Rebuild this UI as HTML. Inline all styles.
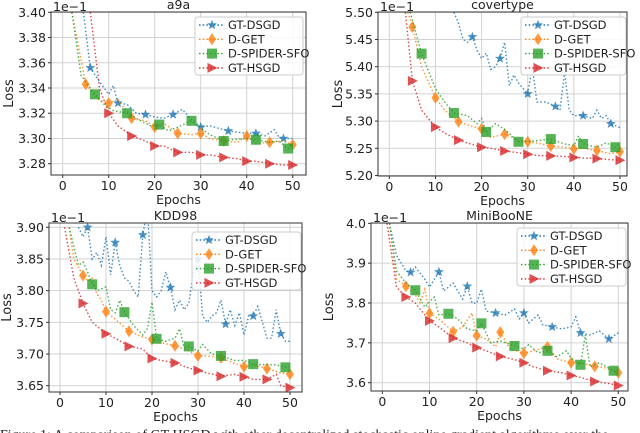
<!DOCTYPE html>
<html><head><meta charset="utf-8"><style>
body{margin:0;background:#fff;width:640px;height:433px;overflow:hidden;font-family:"Liberation Sans","DejaVu Sans",sans-serif}
svg{display:block}
</style></head><body>
<svg id="fig" width="640" height="433" xmlns="http://www.w3.org/2000/svg" font-family="DejaVu Sans, Liberation Sans, sans-serif"></svg>
<script>
// ---- data (loss values in units of 1e-1) ----
const seriesNames = ["GT-DSGD","D-GET","D-SPIDER-SFO","GT-HSGD"];
const xTicks = [0,10,20,30,40,50];

const a9aDsgdX=[4.5,6,8,10,11,12,14,16,18,20,22,24,26,28,30,32,34,36,38,40,42,44,46,47,48,50];
const a9aDsgdY=[3.40,3.356,3.345,3.335,3.342,3.328,3.327,3.32,3.319,3.317,3.316,3.319,3.323,3.315,3.309,3.31,3.308,3.306,3.305,3.304,3.304,3.302,3.307,3.301,3.300,3.300];
const a9aGetX=[2,5,8,10,12,15,18,20,22,25,28,30,32,35,38,40,42,45,48,50];
const a9aGetY=[3.40,3.343,3.33,3.328,3.331,3.316,3.314,3.309,3.312,3.304,3.303,3.304,3.300,3.298,3.297,3.302,3.296,3.297,3.298,3.295];
const a9aSpiX=[2,4,7,9,11,14,17,19,21,23,25,28,30,32,35,37,40,42,45,47,49,50];
const a9aSpiY=[3.40,3.35,3.335,3.327,3.322,3.32,3.314,3.31,3.311,3.306,3.309,3.314,3.308,3.303,3.298,3.299,3.300,3.299,3.297,3.298,3.292,3.297];
const a9aHsX=[6,8,10,12,15,18,20,22,25,28,30,32,35,38,40,42,45,48,50];
const a9aHsY=[3.40,3.34,3.32,3.31,3.302,3.298,3.294,3.294,3.289,3.289,3.287,3.287,3.285,3.284,3.282,3.282,3.28,3.279,3.279];
const a9aYTicks=[3.28,3.30,3.32,3.34,3.36,3.38,3.40];

const covDsgdX=[14,15,16,17,18,19,20,21,22,23,24,25,26,27,28,29,30,31,32,34,36,37,38,39,40,42,44,45,46,47,48,50];
const covDsgdY=[5.50,5.48,5.45,5.445,5.455,5.43,5.415,5.425,5.395,5.40,5.415,5.445,5.365,5.385,5.37,5.36,5.35,5.40,5.335,5.335,5.327,5.32,5.39,5.32,5.31,5.31,5.305,5.32,5.305,5.31,5.295,5.288];
const covGetX=[4,5,7,10,12,15,18,20,22,25,28,30,32,35,38,40,42,45,48,50];
const covGetY=[5.50,5.473,5.40,5.343,5.32,5.299,5.29,5.286,5.27,5.276,5.265,5.262,5.26,5.254,5.252,5.249,5.25,5.246,5.24,5.244];
const covSpiX=[4.5,7,10,12,14,17,19,20,21,23,25,28,30,32,35,38,40,41,42,45,47,49,50];
const covSpiY=[5.50,5.424,5.36,5.335,5.315,5.31,5.295,5.305,5.28,5.295,5.285,5.262,5.263,5.264,5.267,5.258,5.255,5.273,5.258,5.252,5.26,5.252,5.26];
const covHsX=[3.5,5,7,10,12,15,18,20,22,25,28,30,32,35,38,40,42,45,48,50];
const covHsY=[5.50,5.374,5.32,5.289,5.278,5.265,5.257,5.252,5.25,5.245,5.242,5.239,5.237,5.236,5.235,5.233,5.232,5.231,5.229,5.228];
const covYTicks=[5.20,5.25,5.30,5.35,5.40,5.45,5.50];

const kddDsgdX=[4,5,6,7,8,9,10,11,12,13,14,15,16,17,18,19,20,21,22,23,24,25,26,27,28,29,30,31,32,33,34,35,36,37,38,39,40,41,42,43,44,45,46,47,48,49,50];
const kddDsgdY=[3.90,3.885,3.90,3.85,3.86,3.84,3.885,3.825,3.876,3.84,3.82,3.815,3.80,3.79,3.888,3.93,3.80,3.79,3.80,3.83,3.805,3.77,3.785,3.77,3.78,3.83,3.85,3.76,3.75,3.76,3.765,3.785,3.747,3.77,3.745,3.765,3.73,3.76,3.76,3.775,3.75,3.725,3.725,3.77,3.732,3.72,3.72];
const kddGetX=[2,3,5,6,7,8,9,10,12,15,18,20,22,25,28,30,32,35,38,40,42,45,48,50];
const kddGetY=[3.90,3.85,3.824,3.815,3.82,3.795,3.785,3.767,3.755,3.736,3.727,3.723,3.718,3.713,3.705,3.697,3.697,3.694,3.685,3.680,3.683,3.677,3.67,3.668];
const kddSpiX=[2,4,5,6,7,8,10,11,12,13,14,16,18,19,20,21,23,25,26,27,28,30,31,33,35,38,40,42,45,47,49,50];
const kddSpiY=[3.90,3.84,3.845,3.83,3.81,3.80,3.806,3.77,3.765,3.785,3.766,3.745,3.73,3.74,3.782,3.724,3.72,3.725,3.74,3.71,3.712,3.705,3.715,3.70,3.697,3.69,3.69,3.684,3.683,3.683,3.679,3.68];
const kddHsX=[1,3,5,7,10,12,15,18,20,22,25,28,30,32,35,38,40,42,45,47,48,50];
const kddHsY=[3.90,3.82,3.78,3.75,3.732,3.725,3.712,3.708,3.693,3.69,3.686,3.678,3.674,3.67,3.665,3.668,3.664,3.66,3.66,3.668,3.65,3.647];
const kddYTicks=[3.65,3.70,3.75,3.80,3.85,3.90];

const minDsgdX=[1.5,3,5,6,7,9,10,12,13,15,17,18,19,20,21,22,24,26,28,29,30,31,33,34,36,38,40,41,42,44,46,48,50];
const minDsgdY=[4.0,3.92,3.88,3.877,3.89,3.86,3.84,3.878,3.83,3.85,3.81,3.842,3.80,3.80,3.835,3.78,3.775,3.77,3.785,3.76,3.775,3.75,3.77,3.745,3.74,3.735,3.74,3.765,3.725,3.72,3.73,3.71,3.725];
const minGetX=[1.5,3,5,7,8,9,10,12,15,17,19,20,22,24,25,27,30,32,35,37,40,42,45,47,50];
const minGetY=[4.0,3.86,3.842,3.82,3.80,3.835,3.774,3.76,3.728,3.74,3.775,3.718,3.71,3.69,3.727,3.685,3.674,3.68,3.69,3.66,3.65,3.65,3.641,3.638,3.625];
const minSpiX=[1.5,3,5,7,9,11,12,14,16,18,20,21,23,25,28,30,31,33,35,37,39,40,42,43,44,46,49,50];
const minSpiY=[4.0,3.88,3.85,3.832,3.79,3.815,3.77,3.773,3.76,3.735,3.73,3.749,3.70,3.705,3.692,3.685,3.695,3.675,3.68,3.665,3.68,3.662,3.645,3.72,3.64,3.65,3.63,3.63];
const minHsX=[1,3,5,7,10,12,15,18,20,22,25,28,30,32,35,38,40,42,45,48,50];
const minHsY=[4.0,3.84,3.815,3.80,3.755,3.74,3.712,3.70,3.688,3.68,3.666,3.658,3.65,3.64,3.63,3.625,3.618,3.613,3.603,3.598,3.593];
const minYTicks=[3.6,3.7,3.8,3.9,4.0];

const colors=["#1f77b4","#ff7f0e","#2ca02c","#d62728"];
const markerEvery=[6,5,7,5];
const NS="http://www.w3.org/2000/svg";
const svg=document.getElementById('fig');
function mk(tag,attrs,parent){const e=document.createElementNS(NS,tag);for(const k in attrs)e.setAttribute(k,attrs[k]);(parent||svg).appendChild(e);return e;}
function interp(xs,ys,x){if(x<xs[0])return null;for(let i=1;i<xs.length;i++){if(x<=xs[i]){const t=(x-xs[i-1])/(xs[i]-xs[i-1]);return ys[i-1]+t*(ys[i]-ys[i-1]);}}return null;}
function marker(g,type,cx,cy,c){
  let e;
  if(type===0){let p=[];for(let i=0;i<10;i++){const r=i%2?2.2:5.2;const a=-Math.PI/2+i*Math.PI/5;p.push((cx+r*Math.cos(a)).toFixed(1)+","+(cy+r*Math.sin(a)).toFixed(1));}e=mk('polygon',{points:p.join(' '),fill:c,'fill-opacity':0.8},g);}
  else if(type===1){e=mk('polygon',{points:`${cx},${cy-6} ${cx+4},${cy} ${cx},${cy+6} ${cx-4},${cy}`,fill:c,'fill-opacity':0.8},g);}
  else if(type===2){e=mk('rect',{x:cx-5,y:cy-5,width:10,height:10,fill:c,'fill-opacity':0.8},g);}
  else {e=mk('polygon',{points:`${cx-4.5},${cy-5} ${cx+5.5},${cy} ${cx-4.5},${cy+5}`,fill:c,'fill-opacity':0.8},g);}
  
  
}
function panel(o){
  const g=mk('g',{});
  
  
  const sx=v=>o.x0+(v/50)*(o.x50-o.x0);
  const sy=v=>o.yTopPx+(o.yTopVal-v)/(o.yTopVal-o.yBotVal)*(o.yBotPx-o.yTopPx);
  const id='clip'+o.name;
  const cp=mk('clipPath',{id:id},g);mk('rect',{x:o.L,y:o.T,width:o.R-o.L,height:o.B-o.T},cp);
  xTicks.forEach(t=>{mk('line',{x1:sx(t),x2:sx(t),y1:o.T,y2:o.B,stroke:'#d2d2d2','stroke-width':1},g);
    const tl=mk('text',{x:sx(t),y:o.B+15,'text-anchor':'middle','font-size':12.5,fill:'#222'},g);tl.textContent=t;
    
    mk('line',{x1:sx(t),x2:sx(t),y1:o.B,y2:o.B+3,stroke:'#333'},g);});
  o.yTicks.forEach(t=>{mk('line',{x1:o.L,x2:o.R,y1:sy(t),y2:sy(t),stroke:'#d2d2d2','stroke-width':1},g);
    const tl=mk('text',{x:o.L-5,y:sy(t)+4.5,'text-anchor':'end','font-size':12.5,fill:'#222'},g);tl.textContent=t.toFixed(o.dec);
    
    mk('line',{x1:o.L-3,x2:o.L,y1:sy(t),y2:sy(t),stroke:'#333'},g);});
  const cg=mk('g',{'clip-path':`url(#${id})`},g);
  o.series.forEach((s,i)=>{
    const pts=s[0].map((x,j)=>sx(x).toFixed(1)+','+sy(s[1][j]).toFixed(1)).join(' ');
    const pl=mk('polyline',{points:pts,fill:'none',stroke:colors[i],'stroke-width':1.4,'stroke-dasharray':'1.5,2.2','stroke-opacity':0.85},cg);
    
    
    for(let e=markerEvery[i];e<=50;e+=markerEvery[i]){const v=interp(s[0],s[1],e);if(v===null)continue;const py=sy(v);if(py<o.T+2||py>o.B)continue;marker(cg,i,sx(e),py,colors[i]);}
  });
  mk('rect',{x:o.L,y:o.T,width:o.R-o.L,height:o.B-o.T,fill:'none',stroke:'#333','stroke-width':1},g);
  const t=mk('text',{x:(o.L+o.R)/2,y:o.T-3,'text-anchor':'middle','font-size':12.5,fill:'#222'},g);t.textContent=o.title;
  
  const ex=mk('text',{x:o.L+2,y:o.T-1,'font-size':12.5,fill:'#222'},g);ex.textContent='1e\u22121';
  
  const xl=mk('text',{x:(o.L+o.R)/2,y:o.B+29,'text-anchor':'middle','font-size':12.5,fill:'#222'},g);xl.textContent='Epochs';
  
  const yl=mk('text',{x:o.ylx,y:(o.T+o.B)/2,'text-anchor':'middle','font-size':13,fill:'#222',transform:`rotate(-90 ${o.ylx} ${(o.T+o.B)/2})`},g);yl.textContent='Loss';
  
  const lg=mk('g',{},g);
  
  mk('rect',{x:o.lx,y:o.ly,width:o.lw,height:58,rx:3,fill:'#fff','fill-opacity':0.85,stroke:'#ccc'},lg);
  seriesNames.forEach((n,i)=>{const yy=o.ly+8+i*14.3;
    const ent=mk('g',{},lg);
    mk('line',{x1:o.lx+4,x2:o.lx+30,y1:yy,y2:yy,stroke:colors[i],'stroke-width':1.4,'stroke-dasharray':'1.5,2.2'},ent);
    marker(ent,i,o.lx+17,yy,colors[i]);
    const tx=mk('text',{x:o.lx+33,y:yy+4,'font-size':11.5,fill:'#222'},ent);tx.textContent=n;});
}
panel({name:'a9a',title:'a9a',L:51,R:306,T:12,B:175,x0:62.7,x50:292.7,yTopVal:3.40,yTopPx:12.3,yBotVal:3.28,yBotPx:163.7,yTicks:a9aYTicks,dec:2,ylx:13,lx:195,ly:17,lw:108,
  series:[[a9aDsgdX,a9aDsgdY],[a9aGetX,a9aGetY],[a9aSpiX,a9aSpiY],[a9aHsX,a9aHsY]]});
panel({name:'covertype',title:'covertype',L:378,R:627,T:12,B:176,x0:389.3,x50:620,yTopVal:5.50,yTopPx:12.3,yBotVal:5.20,yBotPx:175.5,yTicks:covYTicks,dec:2,ylx:342,lx:521,ly:17,lw:105,
  series:[[covDsgdX,covDsgdY],[covGetX,covGetY],[covSpiX,covSpiY],[covHsX,covHsY]]});
panel({name:'kdd98',title:'KDD98',L:49,R:302,T:223,B:392,x0:60,x50:290,yTopVal:3.90,yTopPx:227.3,yBotVal:3.65,yBotPx:385.7,yTicks:kddYTicks,dec:2,ylx:11,lx:192,ly:232,lw:109,
  series:[[kddDsgdX,kddDsgdY],[kddGetX,kddGetY],[kddSpiX,kddSpiY],[kddHsX,kddHsY]]});
panel({name:'miniboone',title:'MiniBooNE',L:371,R:628,T:223,B:391,x0:382.3,x50:618.3,yTopVal:4.0,yTopPx:223.3,yBotVal:3.6,yBotPx:382.7,yTicks:minYTicks,dec:1,ylx:333,lx:517,ly:228,lw:109,
  series:[[minDsgdX,minDsgdY],[minGetX,minGetY],[minSpiX,minSpiY],[minHsX,minHsY]]});
const cap=mk('text',{x:0,y:439,'font-size':14,fill:'#222','font-family':'Liberation Serif, serif'});
cap.textContent='Figure 1: A comparison of GT-HSGD with other decentralized stochastic online gradient algorithms over the';


</script>
</body></html>
